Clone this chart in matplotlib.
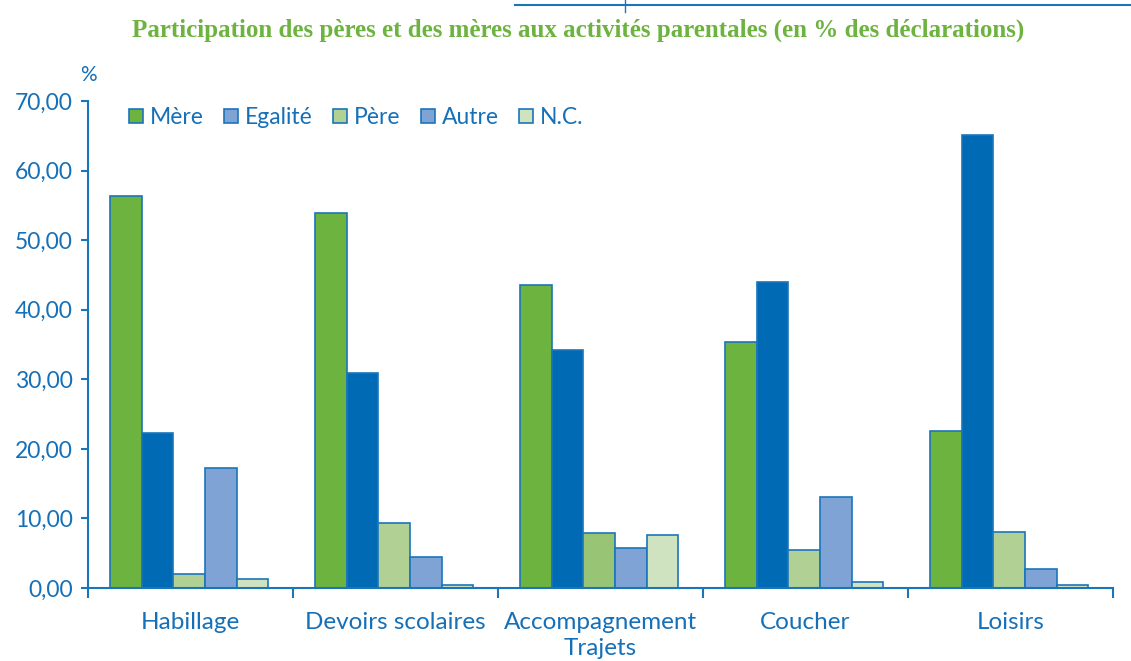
import matplotlib.pyplot as plt
import matplotlib.patches as mpatches
import numpy as np

categories = ['Habillage', 'Devoirs scolaires', 'Accompagnement\nTrajets', 'Coucher', 'Loisirs']
series = ['Mère', 'Egalité', 'Père', 'Autre', 'N.C.']
mere = [56.4, 53.9, 43.5, 35.4, 22.5]
egalite = [22.3, 30.9, 34.2, 44.0, 65.1]
pere = [2.0, 9.4, 7.9, 5.5, 8.1]
autre = [17.3, 4.4, 5.8, 13.1, 2.8]
nc = [1.25, 0.5, 7.6, 0.8, 0.45]
yticks = [0, 10, 20, 30, 40, 50, 60, 70]

colors = ['#6DB33F', '#006AB5', '#B0D094', '#7FA3D5', '#D0E3C0']
legend_colors = ['#6DB33F', '#7FA3D5', '#B0D094', '#7FA3D5', '#D0E3C0']
edge = '#1B75BB'
blue = '#1570B8'

fig = plt.figure(figsize=(11.31, 6.61), dpi=100)
ax = fig.add_axes([88/1131, 1-588/661, (1113-88)/1131, (588-101)/661])

x = np.arange(len(categories))
w = 0.154
for k, vals in enumerate([mere, egalite, pere, autre, nc]):
    bars = ax.bar(x + (k-2)*w - 0.006, vals, w, color=colors[k], edgecolor=edge, linewidth=1.2)
    if k == 2:
        bars[2].set_facecolor('#98C476')

ax.set_xlim(-0.5, 4.5)
ax.set_ylim(0, 70)
ax.set_yticks(yticks)
ax.set_yticklabels(['%d,00' % v if v else '0,00' for v in yticks])
ax.set_xticks(np.arange(-0.5, 5.0, 1.0))
ax.set_xticklabels([])
ax.set_xticks(x, minor=True)
ax.set_xticklabels(categories, minor=True, linespacing=1.3)
ax.tick_params(axis='x', which='minor', length=0, pad=17, labelsize=17.5, labelcolor=blue)
ax.tick_params(axis='x', which='major', length=7, color=edge, width=1.5, direction='out')
ax.tick_params(axis='y', length=5, color=edge, width=1.5, labelsize=16.5, labelcolor=blue, pad=6)
for lab in ax.get_xticklabels(minor=True) + ax.get_yticklabels():
    lab.set_fontfamily('Lato')
ax.spines['top'].set_visible(False)
ax.spines['right'].set_visible(False)
ax.spines['left'].set_color(edge)
ax.spines['bottom'].set_color(edge)
ax.spines['left'].set_linewidth(1.5)
ax.spines['bottom'].set_linewidth(1.5)

handles = [mpatches.Patch(facecolor=c, edgecolor=edge, linewidth=1.2) for c in legend_colors]
leg = ax.legend(handles, series, loc='upper left', bbox_to_anchor=(0.02, 1.03), ncol=5,
                frameon=False, handlelength=0.6, handleheight=0.6, handletextpad=0.3,
                columnspacing=0.9, prop={'family': 'Lato', 'size': 16.5})
for t in leg.get_texts():
    t.set_color(blue)

fig.text(88/1131, 1-75/661, '%', ha='center', va='center', fontsize=15, color=blue, family='Lato')
fig.text(578/1131, 1-30/661, 'Participation des pères et des mères aux activités parentales (en % des déclarations)',
         ha='center', va='center', fontsize=18, fontweight='bold', color='#6DB33F', family='Liberation Serif')

# top decoration line
fig.add_artist(plt.Line2D([515/1131, 1.0], [1-5/661, 1-5/661], color=edge, linewidth=1.5))
fig.add_artist(plt.Line2D([625/1131, 625/1131], [1-12/661, 1.0], color=edge, linewidth=1))

fig.savefig('out.png', dpi=100)
